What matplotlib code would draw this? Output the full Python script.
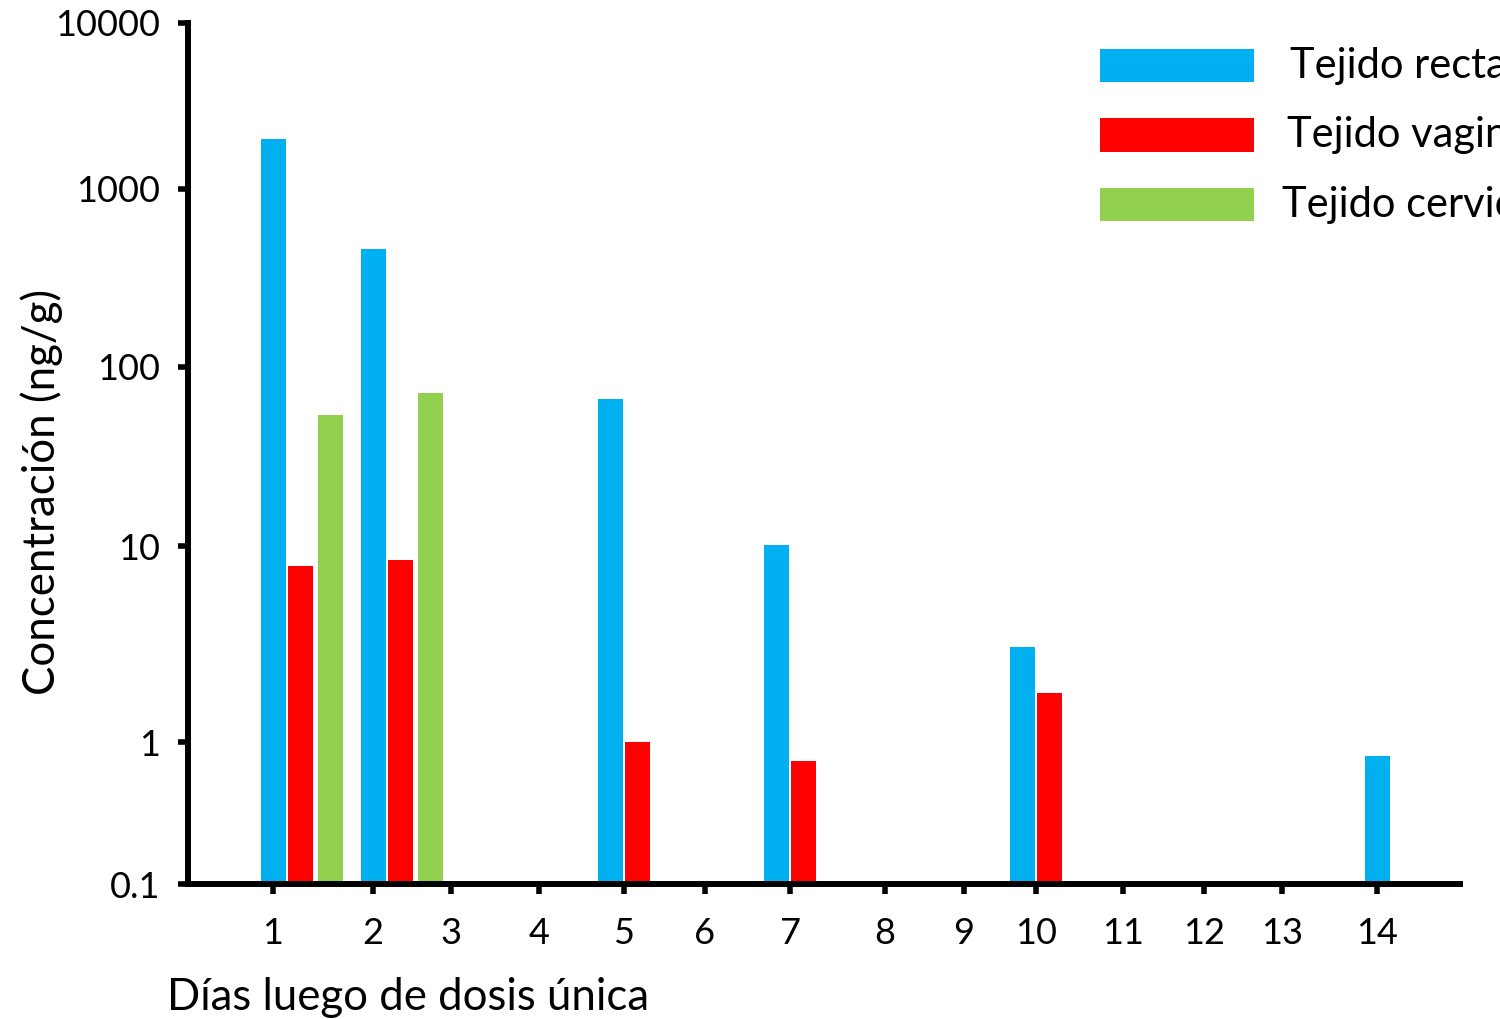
import numpy as np
import matplotlib
matplotlib.use("Agg")
import matplotlib.pyplot as plt
from matplotlib.patches import Rectangle

plt.rcParams['font.family'] = ['Lato', 'DejaVu Sans']

#### Data (ng/g, NaN = not detected)
days = [1, 2, 5, 7, 10, 14]
rectal = [2000, 460, 66, 10.1, 3.05, 0.80]
vaginal = [7.9, 8.5, 1.0, 0.73, 1.78, np.nan]
cervical = [54, 72, np.nan, np.nan, np.nan, np.nan]

series_names = ["Tejido rectal", "Tejido vaginal", "Tejido cervical"]
colors = ["#00B0F0", "#FF0000", "#92D050"]

y_ticks = [0.1, 1, 10, 100, 1000, 10000]
y_ticklabels = ["0.1", "1", "10", "100", "1000", "10000"]
x_ticks = list(range(1, 15))

#### Figure layout (pixels)
W, H = 1500, 1019
fig = plt.figure(figsize=(W / 100, H / 100), dpi=100)
ax_l, ax_r, ax_t, ax_b = 188, 1460, 23, 884
ax = fig.add_axes([ax_l / W, 1 - ax_b / H, (ax_r - ax_l) / W, (ax_b - ax_t) / H])

# hand-spaced axes: piecewise scales through the tick positions
day_knots = np.array([-100] + list(range(0, 16)) + [115], float)
day_px = np.array([188 - 8500, 188, 273, 373, 451, 539, 624, 705, 790, 885,
                   964, 1036, 1123, 1204, 1282, 1377, 1460, 1460 + 8300], float)

def fwd_x(d):
    return np.interp(d, day_knots, day_px)

def inv_x(p):
    return np.interp(p, day_px, day_knots)

dec_knots = np.array([-20, -1, 0, 1, 2, 3, 4, 20], float)
dec_px = np.array([-3268, 0, 142, 338, 517, 695, 861, 3613], float)

def fwd_y(v):
    with np.errstate(divide='ignore', invalid='ignore'):
        lv = np.log10(np.clip(v, 1e-20, None))
    return np.interp(lv, dec_knots, dec_px)

def inv_y(p):
    return 10 ** np.interp(p, dec_px, dec_knots)

ax.set_xscale('function', functions=(fwd_x, inv_x))
ax.set_yscale('function', functions=(fwd_y, inv_y))
ax.set_xlim(0, 15)
ax.set_ylim(0.1, 10000)

#### Bars
bar_px = 25
step_px = [0, 27, 57]
for i, d in enumerate(days):
    vals = [rectal[i], vaginal[i], cervical[i]]
    n = sum(not np.isnan(v) for v in vals)
    # pairs straddle their tick, other groups start on it
    shift = -14 if n == 2 else 0
    c = fwd_x(d) + shift
    for k, v in enumerate(vals):
        if np.isnan(v):
            continue
        mid = c + step_px[k]
        left = inv_x(mid - bar_px / 2)
        right = inv_x(mid + bar_px / 2)
        ax.bar(left, v - 0.1, width=right - left, bottom=0.1, align='edge',
               color=colors[k], linewidth=0, zorder=2)

#### Axes styling
for s in ['top', 'right']:
    ax.spines[s].set_visible(False)
for s in ['left', 'bottom']:
    ax.spines[s].set_linewidth(4.3)
    ax.spines[s].set_zorder(5)

ax.set_yticks(y_ticks)
ax.set_yticklabels(y_ticklabels)
ax.set_xticks(x_ticks)
ax.set_xticklabels([str(t) for t in x_ticks])
ax.minorticks_off()
ax.tick_params(axis='both', direction='out', length=7, width=4, labelsize=26)
ax.tick_params(axis='y', pad=13)
ax.tick_params(axis='x', pad=17)

fig.text(42 / W, 1 - 492 / H, "Concentración (ng/g)", rotation=90,
         ha='center', va='center', fontsize=31.5)
fig.text(408 / W, 1 - 1010 / H, "Días luego de dosis única",
         ha='center', va='baseline', fontsize=31.5)

#### Legend drawn by hand (runs off the right edge)
text_x = [1290, 1287, 1282]
for k, name in enumerate(series_names):
    top = 49 + 69.5 * k
    fig.add_artist(Rectangle((1100 / W, 1 - (top + 33) / H), 154 / W, 33 / H,
                             transform=fig.transFigure, color=colors[k], lw=0))
    fig.text(text_x[k] / W, 1 - (top + 29) / H, name, ha='left', va='baseline',
             fontsize=30)

fig.savefig("out.png", dpi=100, facecolor='white')
